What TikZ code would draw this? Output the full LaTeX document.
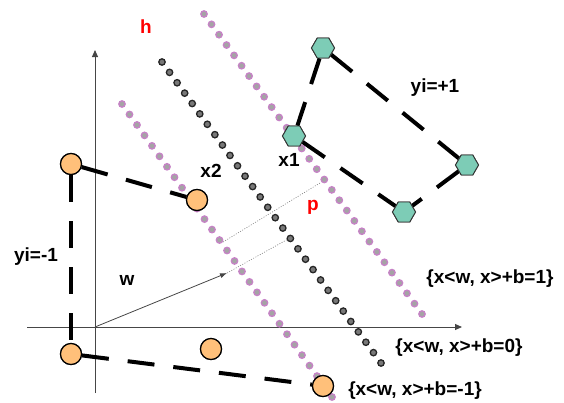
\documentclass[tikz,border=0pt]{standalone}
\usepackage{fontspec}
\setmainfont{Liberation Sans}
\usetikzlibrary{shapes.geometric,arrows.meta}
\definecolor{orangefill}{RGB}{255,192,122}
\definecolor{tealfill}{RGB}{125,204,182}
\definecolor{dotfill}{RGB}{164,164,164}
\definecolor{dotpink}{RGB}{198,130,198}
\definecolor{darkdot}{RGB}{120,120,120}
\definecolor{axisgray}{RGB}{70,70,70}
\begin{document}
\begin{tikzpicture}[x=1pt,y=-1pt,
  negnode/.style={circle, draw=black, line width=1.2pt, fill=orangefill, minimum size=21pt, inner sep=0pt},
  posnode/.style={regular polygon, regular polygon sides=6, draw=black!80, line width=0.9pt, fill=tealfill, minimum size=23pt, inner sep=0pt},
  marginline/.style={line width=4pt, dash pattern=on 27pt off 19pt},
  lbl/.style={font=\fontsize{19}{22}\selectfont\bfseries, inner sep=0pt},
  pdot/.style={draw=dotpink, fill=dotfill, line width=1.3pt},
  ddot/.style={draw=black!85, fill=darkdot, line width=1.3pt},
  axisline/.style={draw=axisgray, line width=1pt, -{Triangle[length=7pt,width=6pt]}},
  thindot/.style={draw=gray, line width=0.6pt, dash pattern=on 1pt off 1.5pt}
]
\useasboundingbox (0,0) rectangle (564,402);

% axes
\coordinate (xstart) at (27,327);
\coordinate (xend) at (462,327);
\coordinate (ybot) at (95,393);
\coordinate (ytop) at (95,50);
\coordinate (O) at (95,327);
\draw[axisline] (xstart) -- (xend);
\draw[axisline] (ybot) -- (ytop);

% hyperplanes as dotted rows
\foreach \i in {0,...,28} \draw[pdot] ({122+210*\i/28},{104+293*\i/28}) circle (3.2pt);
\foreach \i in {0,...,29} \draw[ddot] ({162+219*\i/29},{62+301*\i/29}) circle (3.2pt);
\foreach \i in {0,...,29} \draw[pdot] ({204+218*\i/29},{14+300*\i/29}) circle (3.2pt);

% w vector and projections
\coordinate (wtip) at (227,273);
\coordinate (pa) at (223,242);
\coordinate (pb) at (320,183);
\coordinate (pc) at (290,238);
\draw[thindot] (pa) -- (pb);
\draw[thindot] (wtip) -- (pc);
\draw[draw=axisgray, line width=0.8pt, -{Latex[length=7pt,width=5pt]}] (O) -- (wtip);

% points
\node[negnode] (n1) at (71,164) {};
\node[negnode] (n2) at (197,200) {};
\node[negnode] (n3) at (71,354) {};
\node[negnode] (n4) at (211,349) {};
\node[negnode] (n5) at (323,386) {};
\node[posnode] (q1) at (323,48) {};
\node[posnode] (q2) at (294,136) {};
\node[posnode] (q3) at (467,165) {};
\node[posnode] (q4) at (404,212) {};

% margin hulls
\draw[marginline] (n1) -- (n2);
\draw[marginline] (n1) -- (n3);
\draw[marginline] (n3) -- (n5);
\draw[marginline] (q1) -- (q2);
\draw[marginline] (q1) -- (q3);
\draw[marginline] (q2) -- (q4);
\draw[marginline] (q3) -- (q4);

% redraw nodes on top
\node[negnode] at (n1) {};
\node[negnode] at (n2) {};
\node[negnode] at (n3) {};
\node[negnode] at (n4) {};
\node[negnode] at (n5) {};
\node[posnode] at (q1) {};
\node[posnode] at (q2) {};
\node[posnode] at (q3) {};
\node[posnode] at (q4) {};

% labels
\node[lbl, text=red] (lh) at (146,27) {h};
\node[lbl, text=red] (lp) at (313,207) {p};
\node[lbl] (lx2) at (211,171) {x2};
\node[lbl] (lx1) at (289,160) {x1};
\node[lbl] (lpos) at (435,88) {yi=+1};
\node[lbl] (lneg) at (36,257) {yi=-1};
\node[lbl] (lw) at (127,280) {w};
\node[lbl] (l1) at (490,279) {\{x<w, x>+b=1\}};
\node[lbl] (l0) at (459,348) {\{x<w, x>+b=0\}};
\node[lbl] (lm1) at (415,391) {\{x<w, x>+b=-1\}};
\end{tikzpicture}
\end{document}
